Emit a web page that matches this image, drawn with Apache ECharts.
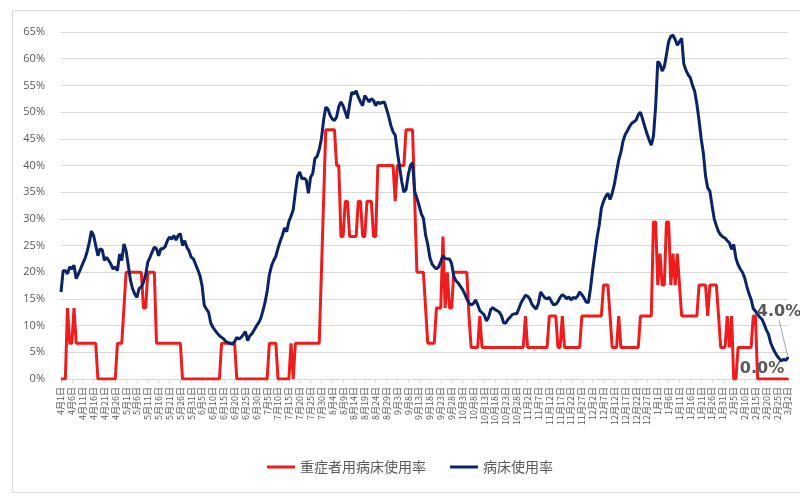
<!DOCTYPE html>
<html>
<head>
<meta charset="utf-8">
<script src="https://cdn.jsdelivr.net/npm/echarts@6/dist/echarts.min.js"></script>
<style>
  html, body { margin: 0; padding: 0; background: #ffffff; }
  #chart { width: 800px; height: 500px; }
</style>
</head>
<body>
<div id="chart"></div>
<script>
// Calendar used for the daily categories (4/1 .. 3/2)
const months = [4, 5, 6, 7, 8, 9, 10, 11, 12, 1, 2, 3];
const monthDays = [30, 31, 30, 31, 31, 30, 31, 30, 31, 31, 28, 2];

const categories = [];
months.forEach(function (m, k) {
  for (let d = 1; d <= monthDays[k]; d++) categories.push(m + '月' + d + '日');
});

// Severe-case bed occupancy (%), daily
const severeRate = [
  0, 0, 0, 13.3, 6.7, 6.7, 13.3, 6.7, 6.7, 6.7,
  6.7, 6.7, 6.7, 6.7, 6.7, 6.7, 6.7, 0, 0, 0,
  0, 0, 0, 0, 0, 0, 6.7, 6.7, 6.7, 13.3,
  20, 20, 20, 20, 20, 20, 20, 20, 13.3, 13.3,
  20, 20, 20, 20, 6.7, 6.7, 6.7, 6.7, 6.7, 6.7,
  6.7, 6.7, 6.7, 6.7, 6.7, 6.7, 0, 0, 0, 0,
  0, 0, 0, 0, 0, 0, 0, 0, 0, 0,
  0, 0, 0, 0, 6.7, 6.7, 6.7, 6.7, 6.7, 6.7,
  6.7, 0, 0, 0, 0, 0, 0, 0, 0, 0,
  0, 0, 0, 0, 0, 0, 6.7, 6.7, 6.7, 6.7,
  0, 0, 0, 0, 0, 0, 6.7, 0, 6.7, 6.7,
  6.7, 6.7, 6.7, 6.7, 6.7, 6.7, 6.7, 6.7, 6.7, 6.7,
  20, 33.3, 46.7, 46.7, 46.7, 46.7, 46.7, 40, 40, 26.7,
  26.7, 33.3, 33.3, 26.7, 26.7, 26.7, 26.7, 33.3, 33.3, 26.7,
  26.7, 33.3, 33.3, 33.3, 26.7, 26.7, 40, 40, 40, 40,
  40, 40, 40, 40, 33.3, 40, 40, 40, 40, 46.7,
  46.7, 46.7, 46.7, 33.3, 20, 20, 20, 20, 13.3, 6.7,
  6.7, 6.7, 6.7, 13.3, 13.3, 13.3, 26.7, 13.3, 20, 13.3,
  13.3, 20, 20, 20, 20, 20, 20, 20, 11.8, 5.9,
  5.9, 5.9, 5.9, 11.8, 5.9, 5.9, 5.9, 5.9, 5.9, 5.9,
  5.9, 5.9, 5.9, 5.9, 5.9, 5.9, 5.9, 5.9, 5.9, 5.9,
  5.9, 5.9, 5.9, 5.9, 11.8, 5.9, 5.9, 5.9, 5.9, 5.9,
  5.9, 5.9, 5.9, 5.9, 5.9, 11.8, 11.8, 11.8, 11.8, 5.9,
  5.9, 11.8, 5.9, 5.9, 5.9, 5.9, 5.9, 5.9, 5.9, 5.9,
  11.8, 11.8, 11.8, 11.8, 11.8, 11.8, 11.8, 11.8, 11.8, 11.8,
  17.6, 17.6, 17.6, 11.8, 5.9, 5.9, 5.9, 11.8, 5.9, 5.9,
  5.9, 5.9, 5.9, 5.9, 5.9, 5.9, 5.9, 11.8, 11.8, 11.8,
  11.8, 11.8, 11.8, 29.4, 29.4, 17.6, 23.5, 17.6, 17.6, 29.4,
  29.4, 17.6, 23.5, 17.6, 23.5, 17.6, 11.8, 11.8, 11.8, 11.8,
  11.8, 11.8, 11.8, 11.8, 17.6, 17.6, 17.6, 17.6, 11.8, 17.6,
  17.6, 17.6, 17.6, 11.8, 5.9, 5.9, 5.9, 11.8, 5.9, 11.8,
  0, 0, 5.9, 5.9, 5.9, 5.9, 5.9, 5.9, 5.9, 11.8,
  11.8, 0, 0, 0, 0, 0, 0, 0, 0, 0,
  0, 0, 0, 0, 0, 0
];

// Overall bed occupancy (%), daily
const bedRate = [
  16.3, 20.3, 20.3, 19.7, 21.0, 20.6, 21.3, 18.8, 19.7, 20.6,
  21.6, 22.5, 23.8, 25.5, 27.7, 26.9, 25.0, 23.1, 24.4, 24.2,
  22.2, 22.8, 22.2, 21.5, 20.6, 21.0, 20.3, 23.4, 22.2, 25.3,
  24.0, 21.3, 18.5, 16.9, 15.9, 15.3, 17.0, 17.2, 18.1, 19.5,
  21.9, 22.8, 23.8, 24.7, 24.4, 23.1, 24.4, 24.4, 24.8, 25.9,
  26.6, 26.2, 26.9, 26.0, 26.9, 27.2, 25.0, 25.9, 24.7, 24.0,
  22.8, 22.5, 21.5, 20.5, 19.4, 17.5, 13.8, 13.1, 12.5, 10.5,
  9.7, 9.1, 8.6, 8.1, 7.8, 7.5, 7.0, 6.8, 6.7, 6.5,
  7.0, 7.8, 7.5, 7.8, 8.3, 8.9, 7.2, 8.1, 8.5, 9.2,
  9.9, 10.5, 11.3, 12.7, 14.3, 16.5, 19.5, 21.2, 22.2, 23.0,
  24.5, 25.8, 26.9, 28.3, 27.6, 29.5, 30.5, 31.7, 35.0, 38.0,
  38.8, 37.5, 37.6, 37.3, 34.8, 37.8, 38.5, 41.3, 41.7, 43.0,
  45.0, 48.5, 50.9, 50.6, 49.4, 48.7, 48.4, 49.1, 51.0, 51.9,
  51.2, 50.0, 48.8, 51.5, 53.7, 53.4, 54.0, 52.8, 51.9, 51.2,
  53.1, 52.5, 51.9, 52.5, 52.2, 51.2, 51.9, 51.6, 51.8, 51.9,
  50.6, 49.2, 47.5, 46.3, 45.7, 42.5, 39.8, 37.0, 35.0, 35.5,
  38.2, 40.0, 40.5, 35.1, 33.9, 32.5, 31.0, 30.1, 27.0, 25.2,
  22.7, 21.5, 21.0, 20.6, 21.0, 22.0, 23.1, 22.6, 22.5, 22.5,
  21.6, 19.2, 18.4, 18.0, 17.4, 16.8, 16.0, 15.0, 14.2, 13.9,
  14.1, 14.8, 13.9, 12.8, 12.4, 12.0, 10.9, 11.5, 13.0, 13.4,
  13.0, 12.8, 12.5, 11.8, 10.5, 10.5, 11.2, 11.6, 12.1, 12.2,
  12.2, 13.2, 14.3, 15.0, 15.7, 15.5, 15.0, 14.0, 13.5, 13.1,
  14.2, 16.3, 15.7, 15.2, 15.0, 15.3, 14.5, 13.9, 14.0, 14.5,
  15.3, 15.8, 15.5, 15.0, 15.4, 14.8, 15.3, 15.1, 15.5, 16.3,
  15.8, 15.2, 14.4, 14.3, 17.0, 20.5, 23.5, 26.5, 28.8, 32.0,
  33.3, 34.2, 34.8, 33.6, 34.8, 36.5, 38.8, 41.0, 42.5, 44.6,
  45.8, 46.5, 47.3, 47.9, 48.2, 48.5, 49.5, 50.0, 48.7, 47.3,
  46.0, 44.8, 43.8, 45.5, 51.0, 59.5, 59.0, 57.7, 58.5, 60.8,
  63.2, 64.2, 64.4, 63.6, 62.5, 63.2, 63.8, 59.0, 57.8, 57.0,
  56.4, 55.0, 53.9, 51.5, 48.5, 45.0, 42.3, 38.0, 35.8, 35.2,
  32.5, 30.0, 28.7, 27.6, 27.0, 26.6, 26.4, 25.9, 25.5, 24.3,
  25.2, 22.6, 21.4, 20.6, 20.0, 19.0, 17.4, 16.0, 14.9, 13.2,
  12.7, 12.1, 11.6, 11.2, 10.3, 9.2, 8.4, 6.8, 5.8, 5.0,
  4.3, 3.8, 3.4, 3.7, 3.5, 4.0
];

const yTicks = { min: 0, max: 65, step: 5 };

const RED = '#ee1c1c';
const NAVY = '#0b2466';
const TEXT = '#595959';
const GRID = '#d9d9d9';

// Only the final day carries a value label
function withEndLabel(values, color) {
  const last = values.length - 1;
  return values.map(function (v, i) {
    if (i !== last) return v;
    return { value: v, symbol: 'circle', symbolSize: 2, itemStyle: { color: color }, label: { show: true } };
  });
}

const endLabelStyle = {
  show: false,
  position: 'top',
  color: TEXT,
  fontSize: 16,
  fontWeight: 'bold',
  fontFamily: 'DejaVu Sans',
  formatter: function (p) { return p.value.toFixed(1) + '%'; }
};

const chart = echarts.init(document.getElementById('chart'), null, { renderer: 'canvas' });

chart.setOption({
  backgroundColor: '#ffffff',
  animation: false,
  graphic: [{
    type: 'rect',
    left: 10, top: 8,
    shape: { width: 800, height: 482 },
    style: { fill: 'none', stroke: '#d9d9d9', lineWidth: 1 },
    silent: true, z: -1
  }],
  grid: { left: 61, right: 12, top: 32, bottom: 121 },
  legend: {
    left: 262, top: 455,
    icon: 'rect',
    itemWidth: 28, itemHeight: 3, itemGap: 24,
    textStyle: { color: TEXT, fontSize: 14, fontFamily: "'Noto Sans CJK JP', sans-serif" },
    data: ['重症者用病床使用率', '病床使用率']
  },
  xAxis: {
    type: 'category',
    data: categories,
    boundaryGap: false,
    axisLine: { lineStyle: { color: GRID, width: 1 } },
    axisTick: { show: true, interval: 4, length: 4, lineStyle: { color: GRID } },
    axisLabel: {
      interval: 4, rotate: 90, margin: 8,
      color: TEXT, fontSize: 9,
      fontFamily: "'Noto Sans CJK JP', sans-serif"
    },
    splitLine: { show: false }
  },
  yAxis: {
    type: 'value',
    min: yTicks.min, max: yTicks.max, interval: yTicks.step,
    axisLine: { show: false },
    axisTick: { show: false },
    axisLabel: { formatter: '{value}%', color: TEXT, fontSize: 11, margin: 16, fontFamily: 'Open Sans' },
    splitLine: { lineStyle: { color: GRID, width: 1 } }
  },
  series: [
    {
      name: '重症者用病床使用率',
      type: 'line',
      data: withEndLabel(severeRate, RED),
      symbol: 'none',
      showSymbol: true,
      showAllSymbol: true,
      color: RED,
      lineStyle: { color: RED, width: 3 },
      label: endLabelStyle,
      labelLayout: { dx: -26, dy: 4 },
      z: 2
    },
    {
      name: '病床使用率',
      type: 'line',
      data: withEndLabel(bedRate, NAVY),
      symbol: 'none',
      showSymbol: true,
      showAllSymbol: true,
      color: NAVY,
      lineStyle: { color: NAVY, width: 3 },
      label: endLabelStyle,
      labelLayout: { dx: -9, dy: -32 },
      labelLine: { show: true, lineStyle: { color: '#a6a6a6', width: 1 } },
      z: 3
    }
  ]
});
</script>
</body>
</html>
